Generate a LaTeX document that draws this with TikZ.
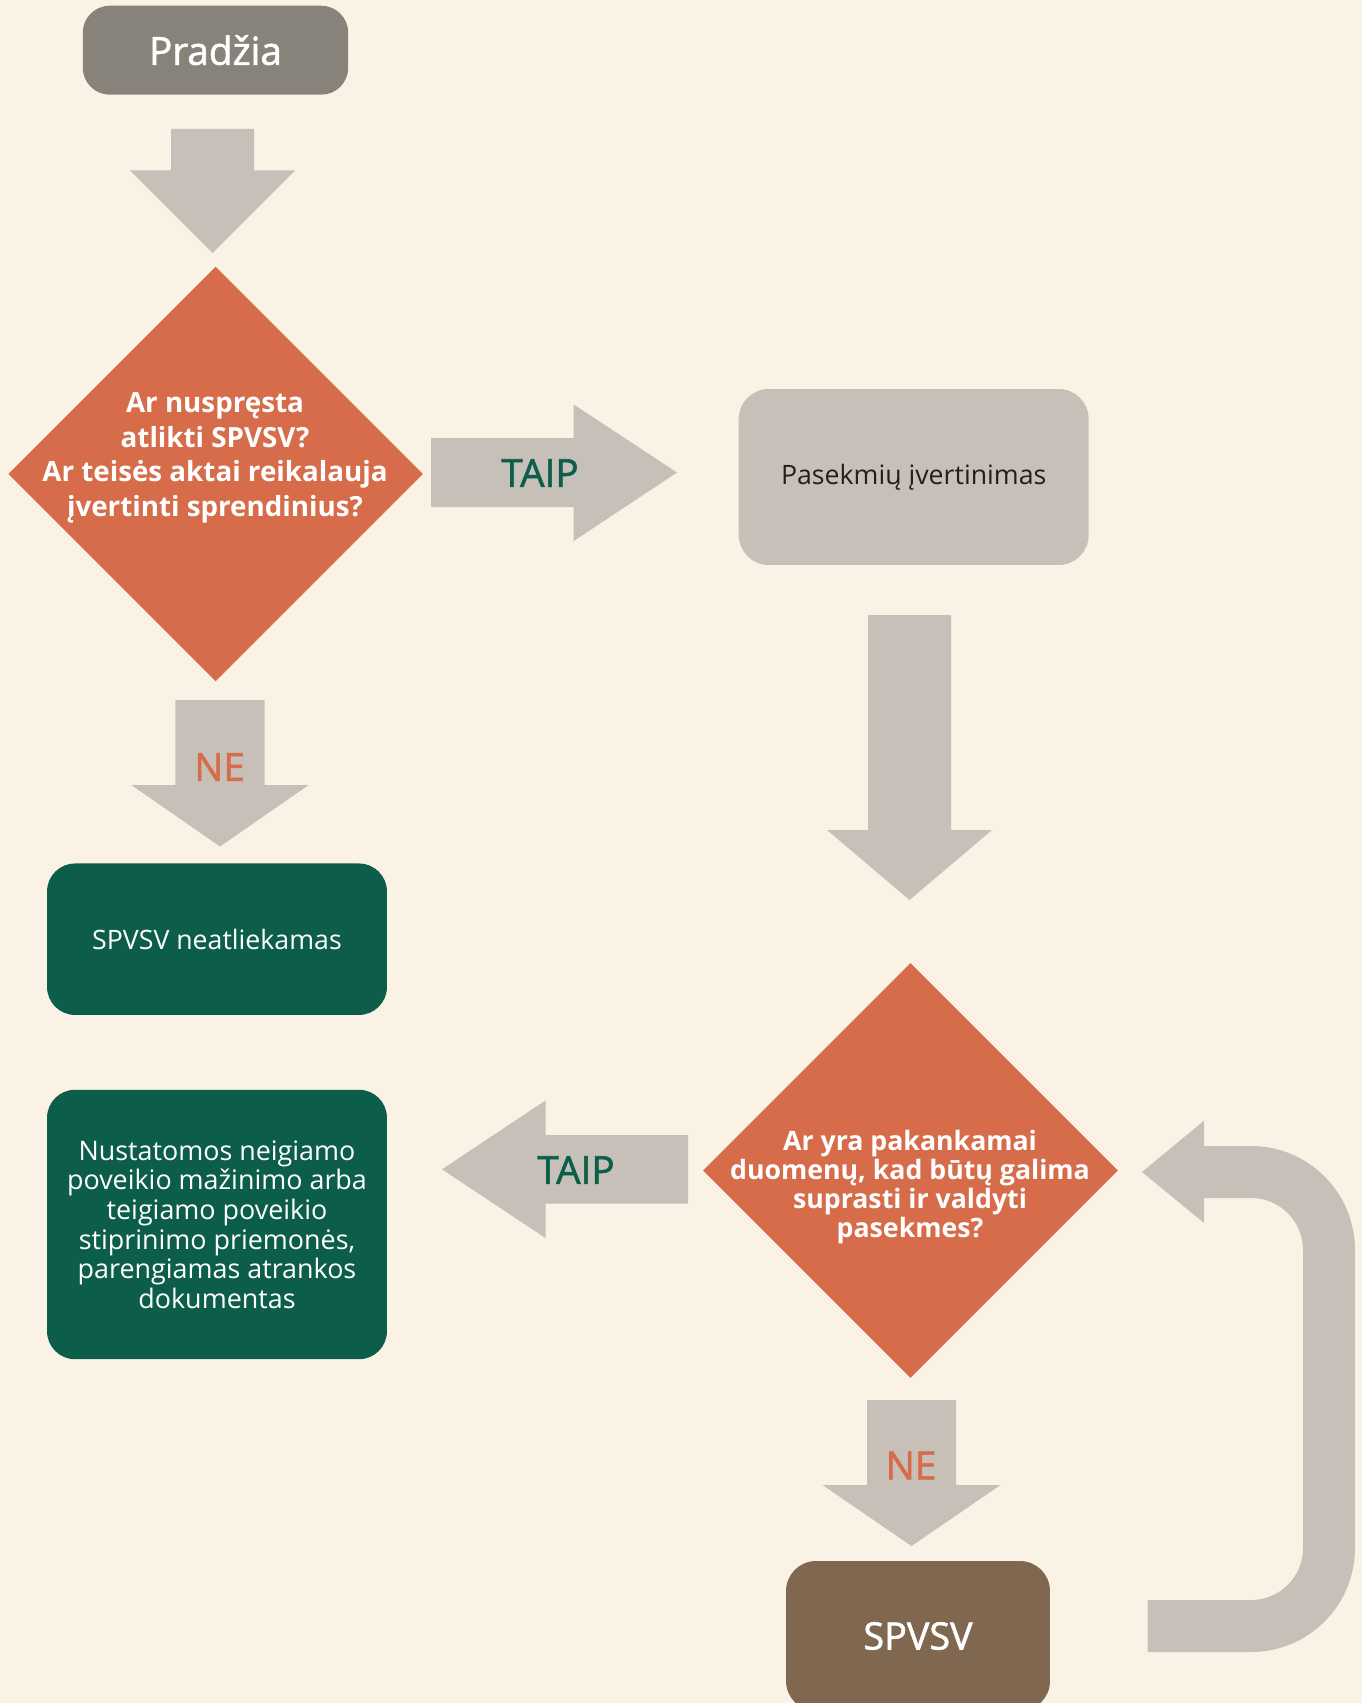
\documentclass[tikz,border=0pt]{standalone}
\usepackage{fontspec}
\setmainfont{Open Sans}
\newfontfamily\heavyfont[FakeBold=1.5]{Open Sans}
\usetikzlibrary{shapes.geometric}

\definecolor{paper}{HTML}{FBF2E6}
\definecolor{stone}{HTML}{87837B}
\definecolor{sand}{HTML}{C7C0B9}
\definecolor{clay}{HTML}{D76C4B}
\definecolor{pine}{HTML}{0C5E4B}
\definecolor{bark}{HTML}{806850}
\definecolor{ink}{HTML}{231F1C}

\begin{document}
\begin{tikzpicture}[
        x=0.02cm,
        y=-0.02cm,
        box/.style={rectangle, rounded corners=0.56cm, inner sep=0pt, align=center},
        question/.style={diamond, fill=clay, inner sep=0pt, minimum width=8.3cm, minimum height=8.3cm},
        qtext/.style={align=center, text=white, font=\fontsize{15.8pt}{19.6pt}\selectfont\bfseries},
        bigarrow/.style={fill=sand},
        yes/.style={text=pine, font=\fontsize{22pt}{26pt}\selectfont\heavyfont},
        no/.style={text=clay, font=\fontsize{22pt}{26pt}\selectfont\heavyfont}
    ]
        \useasboundingbox (0,0) rectangle (1362,1703);
        \fill[paper] (0,0) rectangle (1362,1703);

        % Start and the first question.
        \node[box, fill=stone, text=white, minimum width=5.31cm, minimum height=1.78cm,
            rounded corners=0.54cm, font=\fontsize{22pt}{26pt}\selectfont\heavyfont] (start) at (215.5,50.2) {Pradžia};
        \node[question] (q1) at (215.6,474) {};
        \node[qtext] (q1txt) at (215,458) {Ar nuspręsta\\atlikti SPVSV?\\Ar teisės aktai reikalauja\\įvertinti sprendinius?};

        % Right column.
        \node[box, fill=sand, text=ink, minimum width=7.0cm, minimum height=3.52cm,
            rounded corners=0.6cm, font=\fontsize{15.2pt}{18pt}\selectfont] (assess) at (913.7,477) {Pasekmių įvertinimas};
        \node[question] (q2) at (910.5,1170.5) {};
        \node[qtext, font=\fontsize{15.2pt}{16.6pt}\selectfont\bfseries] (q2txt) at (910,1187)
            {Ar yra pakankamai\\duomenų, kad būtų galima\\suprasti ir valdyti\\pasekmes?};
        \node[box, fill=bark, text=white, minimum width=5.28cm, minimum height=3.0cm,
            rounded corners=0.6cm, font=\fontsize{21.5pt}{26pt}\selectfont\heavyfont] (spvsv) at (918,1636) {SPVSV};

        % Left column, outcomes.
        \node[box, fill=pine, text=white, minimum width=6.8cm, minimum height=3.03cm,
            font=\fontsize{15.2pt}{18pt}\selectfont] (skip) at (217,939.2) {SPVSV neatliekamas};
        \node[box, fill=pine, text=white, minimum width=6.8cm, minimum height=5.39cm,
            font=\fontsize{15.3pt}{16.8pt}\selectfont] (measures) at (217,1224.5)
            {Nustatomos neigiamo\\poveikio mažinimo arba\\teigiamo poveikio\\stiprinimo priemonės,\\parengiamas atrankos\\dokumentas};

        % Block arrows pointing down.
        \foreach \cx/\sw/\hw/\ya/\yb/\yc in {212.5/41.5/82.5/129/170.5/253,220/44.6/88.7/700/785/846.5,909.5/41.5/82.5/615/830/900,911.5/44.5/89/1400/1485/1546} {
            \fill[bigarrow] (\cx-\sw,\ya) -- (\cx+\sw,\ya) -- (\cx+\sw,\yb) -- (\cx+\hw,\yb)
                -- (\cx,\yc) -- (\cx-\hw,\yb) -- (\cx-\sw,\yb) -- cycle;
        }

        % Sideways arrows.
        \fill[bigarrow] (431,438) -- (573.7,438) -- (573.7,404.5) -- (677,472.5) -- (573.7,541) -- (573.7,507) -- (431,507) -- cycle;
        \fill[bigarrow] (688,1135) -- (545.5,1135) -- (545.5,1100.5) -- (442,1169.3) -- (545.5,1238) -- (545.5,1203.7) -- (688,1203.7) -- cycle;

        % Loop back from SPVSV to the second question.
        \draw[sand, line width=1.04cm, rounded corners=1.56cm] (1147.5,1626) -- (1329,1626) -- (1329,1172) -- (1203,1172);
        \fill[bigarrow] (1204,1120.7) -- (1142,1172) -- (1204,1223) -- cycle;

        \node[yes] (yes1) at (540,473) {TAIP};
        \node[yes] (yes2) at (576,1170) {TAIP};
        \node[no] (no1) at (219.6,767) {NE};
        \node[no] (no2) at (911,1465.5) {NE};
    \end{tikzpicture}
\end{document}
